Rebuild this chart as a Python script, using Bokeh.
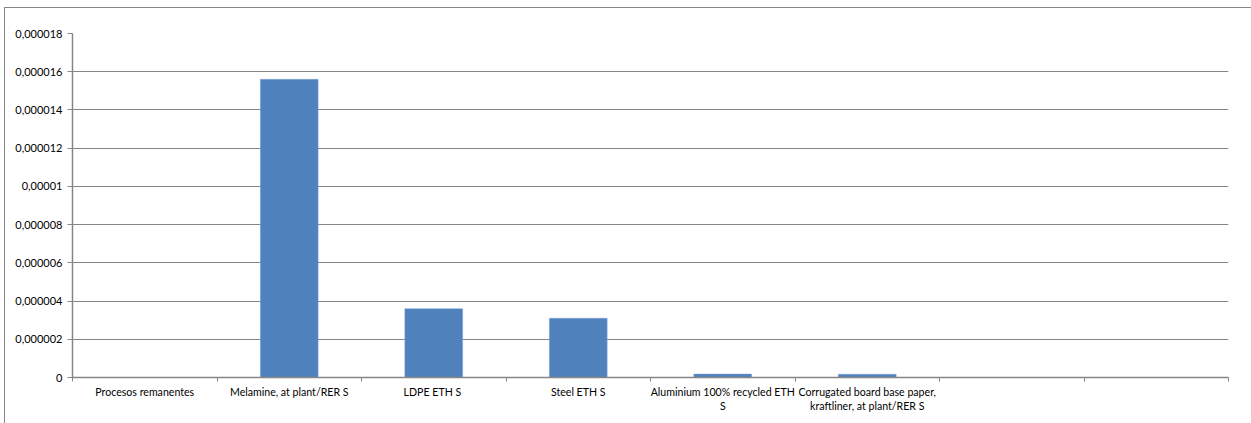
from bokeh.plotting import figure
from bokeh.models import FixedTicker, ColumnDataSource, Range1d
from bokeh.layouts import column
from bokeh.embed import file_html
from bokeh.resources import INLINE

# ---- data ----
categories = [
    "Procesos remanentes",
    "Melamine, at plant/RER S",
    "LDPE ETH  S",
    "Steel ETH S",
    "Aluminium 100% recycled ETH\nS",
    "Corrugated board base paper,\nkraftliner, at plant/RER S",
    "",
    "",
]
values = [0.0, 0.0000156, 0.0000036, 0.0000031, 0.00000018, 0.00000017, None, None]
y_ticks = [0, 0.000002, 0.000004, 0.000006, 0.000008, 0.00001, 0.000012, 0.000014, 0.000016, 0.000018]
y_tick_labels = ["0", "0,000002", "0,000004", "0,000006", "0,000008", "0,00001",
                 "0,000012", "0,000014", "0,000016", "0,000018"]

FONT = "Lato"
GRAY = "#868686"
BAR = "#4F81BD"

n = len(categories)
xs = [i + 0.5 for i in range(n) if values[i] is not None]
tops = [v for v in values if v is not None]
src = ColumnDataSource(dict(x=xs, top=tops))

W, H = 1246, 414
p = figure(width=W, height=H, output_backend="svg", toolbar_location=None,
           x_range=Range1d(0, n), y_range=Range1d(0, 0.000018))
p.min_border_left = 67
p.min_border_right = 23
p.min_border_top = 24
p.min_border_bottom = 46
p.outline_line_color = None
p.background_fill_color = "white"
p.border_fill_color = "white"

p.vbar(x="x", top="top", width=0.4, bottom=0, source=src,
       fill_color=BAR, line_color="#7FA3D4", line_width=0.5)

# x axis
xa = p.xaxis[0]
xa.ticker = FixedTicker(ticks=[i + 0.5 for i in range(n)], minor_ticks=list(range(n + 1)))
xa.major_label_overrides = {i + 0.5: categories[i] for i in range(n)}
xa.major_tick_line_color = None
xa.major_tick_out = 0
xa.major_tick_in = 0
xa.minor_tick_line_color = GRAY
xa.minor_tick_out = 4
xa.minor_tick_in = 0
xa.axis_line_color = GRAY
xa.axis_line_width = 1.5
xa.major_label_text_font = FONT
xa.major_label_text_font_size = "10.6px"
xa.major_label_text_color = "#000000"
xa.major_label_standoff = 4

# y axis
ya = p.yaxis[0]
ya.ticker = FixedTicker(ticks=y_ticks, minor_ticks=[])
ya.major_label_overrides = {t: l for t, l in zip(y_ticks, y_tick_labels)}
ya.major_tick_line_color = GRAY
ya.major_tick_out = 5
ya.major_tick_in = 0
ya.minor_tick_line_color = None
ya.axis_line_color = GRAY
ya.axis_line_width = 1.5
ya.major_label_text_font = FONT
ya.major_label_text_font_size = "11px"
ya.major_label_text_color = "#000000"
ya.major_label_standoff = 5

p.xgrid.grid_line_color = None
p.ygrid.grid_line_color = GRAY
p.ygrid.grid_line_width = 1
p.ygrid.ticker = FixedTicker(ticks=y_ticks)

layout = column(p, margin=(7, 0, 0, 4),
                styles={"border-left": "1px solid #868686", "border-top": "1px solid #868686",
                        "box-sizing": "content-box", "padding-top": "1px"})

open("out.html", "w").write(file_html(layout, INLINE))
